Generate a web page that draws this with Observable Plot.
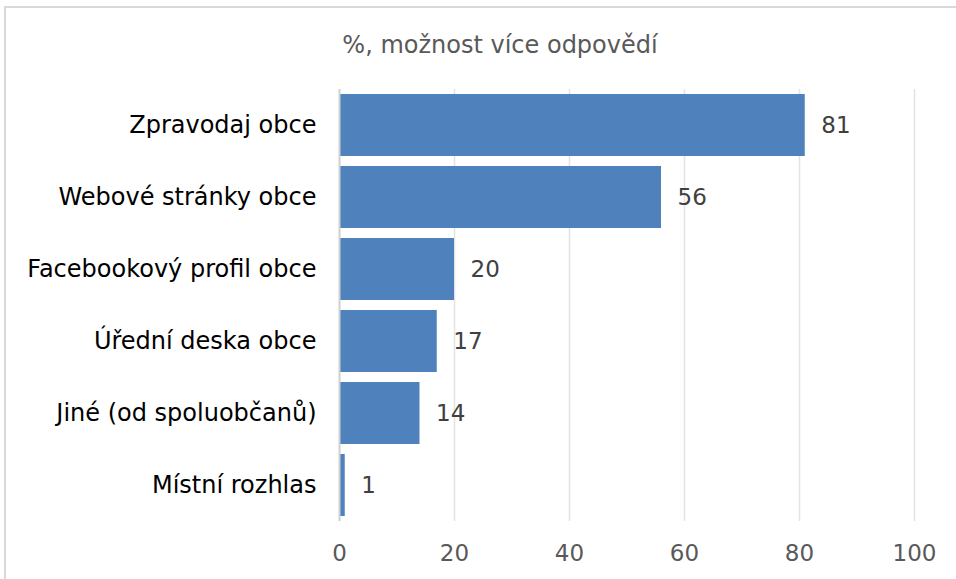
<!DOCTYPE html>
<html><head><meta charset="utf-8">
<script src="https://cdn.jsdelivr.net/npm/d3@7"></script>
<script src="https://cdn.jsdelivr.net/npm/@observablehq/plot@0.6"></script>
<style>
body{margin:0;background:#fff;font-family:"DejaVu Sans",Verdana,sans-serif;}
#frame{position:absolute;left:4px;top:6px;width:1000px;height:700px;border:2px solid #d9d9d9;box-sizing:border-box;}
#title{position:absolute;left:22px;top:0;width:956px;height:75px;text-align:center;line-height:90px;font-size:24px;color:#595959;}
#chart{position:absolute;left:0;top:75px;}
</style></head><body>
<div id="frame"></div>
<div id="title">%, možnost více odpovědí</div>
<div id="chart"></div>
<script>
const categories = ["Zpravodaj obce","Webové stránky obce","Facebookový profil obce","Úřední deska obce","Jiné (od spoluobčanů)","Místní rozhlas"];
const values = [81,56,20,17,14,1];
const xTicks = [0,20,40,60,80,100];
const data = categories.map((c,i)=>({cat:c,val:values[i]}));
const plot = Plot.plot({
  width:956, height:504,
  marginLeft:339, marginRight:42, marginTop:14, marginBottom:58,
  style:{fontFamily:"'DejaVu Sans',Verdana,sans-serif",fontSize:"23px",background:"transparent"},
  x:{domain:[0,100],ticks:xTicks,label:null},
  y:{domain:categories,label:null,paddingInner:0.14,paddingOuter:0.07},
  marks:[
    Plot.ruleX(xTicks.filter(d=>d>0),{stroke:"#e3e3e3",strokeWidth:1.5}),
    Plot.barX(data,{x:"val",y:"cat",fill:"#4f81bd"}),
    Plot.ruleX([0],{stroke:"#d0d0d0",strokeWidth:2}),
    Plot.text(data,{x:"val",y:"cat",text:d=>String(d.val),dx:16,textAnchor:"start",fill:"#404040",fontSize:23}),
    Plot.axisX({ticks:xTicks,tickSize:0,tickPadding:23,fill:"#595959",fontSize:23,label:null}),
    Plot.axisY({tickSize:0,tickPadding:23,fill:"#000",fontSize:24,label:null})
  ]
});
document.getElementById("chart").appendChild(plot);
</script>
</body></html>
